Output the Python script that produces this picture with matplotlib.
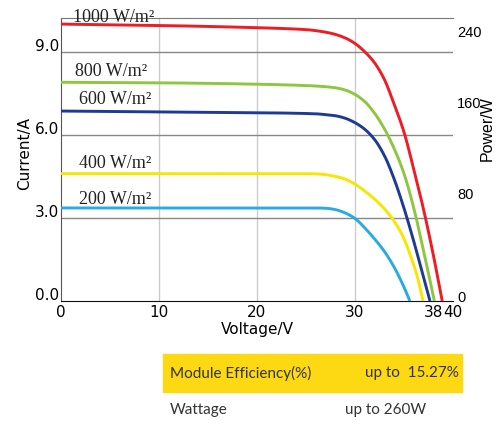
import numpy as np
import matplotlib
matplotlib.use('Agg')
import matplotlib.pyplot as plt
from matplotlib.patches import Rectangle
import matplotlib.transforms as mtransforms

# I-V 곡선 데이터
v_1000 = [0, 10, 20, 25, 27.4, 29, 30, 31, 32, 33, 34, 35, 36, 37, 38, 38.9]
i_1000 = [10.0, 9.95, 9.87, 9.8, 9.68, 9.5, 9.3, 9.0, 8.6, 8.0, 7.1, 6.1, 4.75, 3.3, 1.65, 0]
v_800 = [0, 10, 20, 25, 27, 28, 29, 30, 31, 32, 33, 34, 35, 36, 37, 38.1]
i_800 = [7.9, 7.88, 7.83, 7.78, 7.74, 7.7, 7.62, 7.46, 7.2, 6.78, 6.22, 5.5, 4.6, 3.35, 1.8, 0]
v_600 = [0, 10, 20, 26, 27, 28, 29, 30, 31, 32, 33, 34, 35, 36, 37, 37.65]
i_600 = [6.86, 6.83, 6.8, 6.76, 6.73, 6.69, 6.6, 6.44, 6.2, 5.83, 5.25, 4.4, 3.35, 2.15, 0.85, 0]
v_400 = [0, 25, 26.5, 28, 29, 30, 31, 32, 33, 34, 35, 35.6, 36.3, 36.95]
i_400 = [4.6, 4.6, 4.58, 4.5, 4.4, 4.22, 3.97, 3.68, 3.33, 2.88, 2.25, 1.7, 0.95, 0]
v_200 = [0, 26, 27, 28, 29, 30, 31, 32, 33, 34, 35, 35.6]
i_200 = [3.36, 3.36, 3.35, 3.3, 3.18, 2.98, 2.64, 2.24, 1.79, 1.22, 0.5, 0]

curve_labels = ['1000 W/m²', '800 W/m²', '600 W/m²', '400 W/m²', '200 W/m²']
curve_colors = ['#ee1c25', '#8dc63f', '#1f3a93', '#f7e600', '#29abe2']
label_pos = [(1.2, 10.25), (1.4, 8.27), (1.8, 7.26), (1.8, 4.98), (1.8, 3.68)]

x_ticks = [0, 10, 20, 30, 38, 40]
y_ticks = [0, 3, 6, 9]
y_tick_labels = ['0.0', '3.0', '6.0', '9.0']
power_labels = ['0', '80', '160', '240']
power_pos = [0.18, 3.9, 7.18, 9.75]

table_rows = [('Module Efficiency(%)', 'up to  15.27%'), ('Wattage', 'up to 260W')]

gothic = 'DejaVu Sans'


def pchip(x, y, xn):
    # 단조 3차 보간 (곡선 부드럽게)
    x = np.asarray(x, float)
    y = np.asarray(y, float)
    h = np.diff(x)
    d = np.diff(y) / h
    m = np.zeros_like(y)
    for k in range(1, len(x) - 1):
        if d[k-1] * d[k] > 0:
            w1 = 2*h[k] + h[k-1]
            w2 = h[k] + 2*h[k-1]
            m[k] = (w1 + w2) / (w1/d[k-1] + w2/d[k])
    m[0] = d[0]
    m[-1] = d[-1]
    idx = np.clip(np.searchsorted(x, xn) - 1, 0, len(x) - 2)
    t = (xn - x[idx]) / h[idx]
    h00 = 2*t**3 - 3*t**2 + 1
    h10 = t**3 - 2*t**2 + t
    h01 = -2*t**3 + 3*t**2
    h11 = t**3 - t**2
    return h00*y[idx] + h10*h[idx]*m[idx] + h01*y[idx+1] + h11*h[idx]*m[idx+1]


fig = plt.figure(figsize=(5.02, 4.24), dpi=100)
ax = fig.add_axes([61/502, 1-301/424, 392/502, 283/424])

curves = [(v_1000, i_1000), (v_800, i_800), (v_600, i_600), (v_400, i_400), (v_200, i_200)]
for (v, i), c in zip(curves, curve_colors):
    vv = np.linspace(v[0], v[-1], 400)
    ax.plot(vv, pchip(v, i, vv), color=c, lw=2.1, solid_capstyle='butt', zorder=3)

for lab, (px, py) in zip(curve_labels, label_pos):
    ax.text(px, py, lab, family='Liberation Serif', fontsize=13, va='center',
            ha='left', color='#222222', clip_on=False, zorder=4)

ax.set_xlim(0, 40)
ax.set_ylim(0, 10.22)
ax.set_xticks(x_ticks)
ax.set_xticklabels([str(t) for t in x_ticks], family=gothic, fontsize=11)
ax.set_yticks([])
ylab_tr = ax.get_yaxis_transform() + mtransforms.ScaledTranslation(-2/100, 5/100, fig.dpi_scale_trans)
for yv, lab in zip(y_ticks, y_tick_labels):
    ax.text(0, yv, lab, transform=ylab_tr, family=gothic, fontsize=11,
            ha='right', va='center')
ax.tick_params(axis='both', length=0, pad=3)

for xv in [10, 20, 30]:
    ax.axvline(xv, color='#cccccc', lw=1, zorder=1)
for yv in [3, 6, 9]:
    ax.axhline(yv, color='#888888', lw=1, zorder=1)

ax.spines['right'].set_visible(False)
ax.spines['top'].set_color('#777777')
ax.spines['left'].set_color('#555555')
ax.spines['bottom'].set_color('#111111')

ax.set_xlabel('Voltage/V', family=gothic, fontsize=11, labelpad=1)
fig.text(25/502, 1-154/424, 'Current/A', rotation=90, family=gothic,
         fontsize=11, ha='center', va='center')

ax2 = ax.twinx()
ax2.set_ylim(ax.get_ylim())
ax2.set_yticks(power_pos)
ax2.set_yticklabels(power_labels, family='Liberation Sans', fontsize=10.5)
ax2.tick_params(axis='y', length=0, pad=3)
for s in ax2.spines.values():
    s.set_visible(False)
fig.text(487/502, 1-129/424, 'Power/W', rotation=90, family='Liberation Sans',
         fontsize=11.5, ha='center', va='center')

# 하단 사양 표
fig.patches.append(Rectangle((163/502, 1-392/424), 299/502, 38/424,
                             transform=fig.transFigure, color='#fcd912', zorder=0))
fig.text(170/502, 1-373/424, table_rows[0][0], family='Lato', fontsize=11,
         va='center', ha='left', color='#333333')
fig.text(459/502, 1-373/424, table_rows[0][1], family='Lato', fontsize=11,
         va='center', ha='right', color='#333333')
fig.text(170/502, 1-410/424, table_rows[1][0], family='Lato', fontsize=11,
         va='center', ha='left', color='#333333')
fig.text(345/502, 1-410/424, table_rows[1][1], family='Lato', fontsize=11,
         va='center', ha='left', color='#333333')

fig.savefig('out.png', dpi=100)
